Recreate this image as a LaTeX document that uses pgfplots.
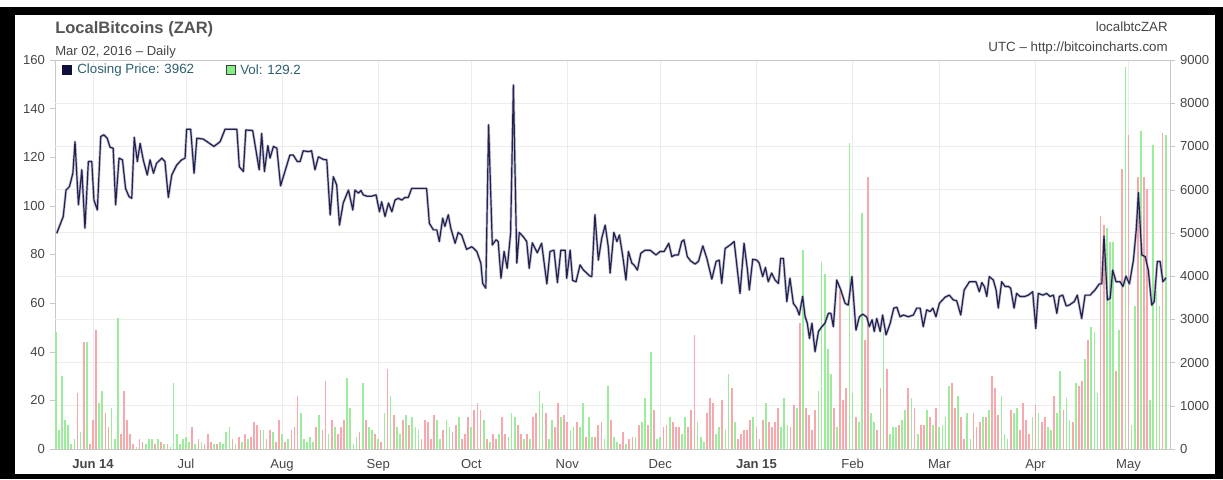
\documentclass[border=0pt]{standalone}
\usepackage{pgfplots}
\usepackage{pgfplotstable}
\pgfplotsset{compat=1.18}
\usepackage{fontspec}
\setmainfont{Liberation Sans}

\definecolor{volgreen}{RGB}{155,236,155}
\definecolor{volred}{RGB}{246,168,172}
\definecolor{priceline}{RGB}{34,34,74}
\definecolor{priceglow}{RGB}{150,150,190}
\definecolor{gridc}{RGB}{236,236,236}
\definecolor{axisc}{RGB}{200,200,200}
\definecolor{labelc}{RGB}{70,70,70}
\definecolor{titlec}{RGB}{85,85,85}
\definecolor{legtext}{RGB}{45,95,110}
\definecolor{legnavy}{RGB}{15,15,60}

\pgfplotsset{
  base/.style={
    scale only axis,
    width=836.25pt, height=291.75pt,
    at={(41.25pt,22.5pt)}, anchor=south west,
    xmin=-12.26, xmax=347.4,
    ticklabel style={font=\fontsize{9.8}{11}\selectfont, text=labelc},
    /pgf/number format/assume math mode=true,
    /pgf/number format/1000 sep={},
    axis line style={axisc},
    tick style={axisc},
    tick align=outside,
    major tick length=4pt,
  },
}

% daily volume (left axis), x = days since 1 Jun 2014, c = 1 green / 0 red
\pgfplotstableread{
d v c
-12 48 1
-11 8 1
-10 30 1
-9 12 1
-8 10 1
-7 2 1
-6 4 1
-5 23 0
-4 7 1
-3 44 0
-2 44 1
-1 2 0
0 12 0
1 49 0
2 19 1
3 24 1
4 15 0
5 9 0
6 17 1
7 4 1
8 54 1
9 6 0
10 24 0
11 12 0
12 6 0
13 2 0
14 1 1
15 4 0
16 3 0
17 2 1
18 4 1
19 4 1
20 2 0
21 4 1
22 3 0
23 2 1
24 2 0
25 1 1
26 27 1
27 6 1
28 2 1
29 4 1
30 5 1
31 3 1
32 9 0
33 2 1
34 4 0
35 3 1
36 2 0
37 6 0
38 3 0
39 2 1
40 2 0
41 3 1
42 2 1
43 7 1
44 9 1
45 4 0
46 2 1
47 5 0
48 3 1
49 6 0
50 4 1
51 5 0
52 11 0
53 10 0
54 8 0
55 8 1
56 4 0
57 8 0
58 7 1
59 3 0
60 12 0
61 6 1
62 3 0
63 4 1
64 8 0
65 9 0
66 22 0
67 15 1
68 4 1
69 3 1
70 5 1
71 3 1
72 9 0
73 14 1
74 8 0
75 28 0
76 6 1
77 12 0
78 9 1
79 6 0
80 9 0
81 12 0
82 29 1
83 17 1
84 2 1
85 5 1
86 7 0
87 27 1
88 12 0
89 9 1
90 8 1
91 6 0
92 4 1
93 3 0
94 15 1
95 33 0
96 22 1
97 14 0
98 9 1
99 6 1
100 12 0
101 14 1
102 10 0
103 13 1
104 9 1
105 8 1
106 4 0
107 12 0
108 11 0
109 4 0
110 14 0
111 12 1
112 4 1
113 8 0
114 12 1
115 9 1
116 7 0
117 10 0
118 13 1
119 4 0
120 6 0
121 13 0
122 9 1
123 16 0
124 19 0
125 16 0
126 12 1
127 4 0
128 3 1
129 6 0
130 4 0
131 6 1
132 13 0
133 6 0
134 5 1
135 15 1
136 13 1
137 10 0
138 6 0
139 4 1
140 6 0
141 4 1
142 13 0
143 15 0
144 24 1
145 19 1
146 15 0
147 4 1
148 12 1
149 9 0
150 19 0
151 13 1
152 14 0
153 11 0
154 8 1
155 9 1
156 11 0
157 9 1
158 19 1
159 5 0
160 13 1
161 5 1
162 5 0
163 10 0
164 11 0
165 4 1
166 26 1
167 12 0
168 5 1
169 3 1
170 2 0
171 7 0
172 2 1
173 4 0
174 5 0
175 5 1
176 10 0
177 11 1
178 21 1
179 10 0
180 40 1
181 16 0
182 4 1
183 5 1
184 9 0
185 10 0
186 13 1
187 11 0
188 9 0
189 9 0
190 6 1
191 13 1
192 9 0
193 16 0
194 47 0
195 11 1
196 5 1
197 3 1
198 15 0
199 21 0
200 19 0
201 6 1
202 9 1
203 20 0
204 8 1
205 31 1
206 25 0
207 11 1
208 4 0
209 6 0
210 8 0
211 8 0
212 12 0
213 13 1
214 9 0
215 4 0
216 12 0
217 19 1
218 11 0
219 9 0
220 11 0
221 17 0
222 9 1
223 21 1
224 10 1
225 9 0
226 18 0
227 17 1
228 52 0
229 82 1
230 17 0
231 14 0
232 8 0
233 16 0
234 24 1
235 77 1
236 72 1
237 41 1
238 31 1
239 17 0
240 9 1
241 65 0
242 20 0
243 25 0
244 126 1
245 23 1
246 13 0
247 11 1
248 97 1
249 45 0
250 112 0
251 15 1
252 11 1
253 8 0
254 25 0
255 48 1
256 33 0
257 6 1
258 9 1
259 9 1
260 10 0
261 12 1
262 16 1
263 25 0
264 21 1
265 17 0
266 6 1
267 10 0
268 10 0
269 16 1
270 13 0
271 10 1
272 17 0
273 9 1
274 10 1
275 13 1
276 26 1
277 27 0
278 17 0
279 22 1
280 13 0
281 4 0
282 15 1
283 4 1
284 15 0
285 9 0
286 11 0
287 13 1
288 13 0
289 16 1
290 30 0
291 25 0
292 14 0
293 22 1
294 6 1
295 4 1
296 16 0
297 15 1
298 17 1
299 8 0
300 19 0
301 12 0
302 6 0
303 13 1
304 18 0
305 15 1
306 11 0
307 13 0
308 9 1
309 8 1
310 22 0
311 15 1
312 32 1
313 16 0
314 21 1
315 12 1
316 11 0
317 27 1
318 26 0
319 28 0
320 37 1
321 45 0
322 50 1
323 48 1
324 23 1
325 96 0
326 92 0
327 91 1
328 85 1
329 85 1
330 32 0
331 49 1
332 115 0
333 157 1
334 129 0
335 10 1
336 59 1
337 112 0
338 131 1
339 112 0
340 107 0
341 20 1
342 125 1
343 65 1
344 59 1
345 130 0
346 129.2 1
}\voltable

% closing price (right axis)
\pgfplotstableread{
d p
-11.7 4990
-9.6 5380
-8.7 5990
-7.6 6070
-6.5 6380
-5.8 7110
-4.7 5650
-3.6 6460
-2.6 5110
-1.5 6650
-0.4 6650
0.3 5760
1.4 5530
2.5 7230
3.5 7270
4.6 7190
5.5 6980
6.5 6960
7.3 5650
8.4 6730
9.5 6690
10.5 6030
11.6 5840
12.5 5800
13.3 7210
14.3 6650
15.2 7070
16.2 6690
17.5 6340
18.4 6690
19.5 6380
20.5 6610
22.2 6730
23.2 6650
24.3 5820
25.4 6340
27.0 6570
28.6 6690
29.7 6730
30.2 7400
31.5 7400
32.6 6380
33.5 7190
35.6 7170
37.2 7090
39.0 7000
41.0 7110
42.6 7400
46.4 7400
47.2 6530
48.5 6420
49.3 7380
51.5 7370
53.6 6460
54.4 7300
55.3 6420
56.4 7020
57.1 6730
58.2 7000
59.3 6960
60.5 6090
61.9 6420
63.5 6800
64.6 6800
65.9 6650
66.8 6650
67.8 6900
69.5 6880
70.5 6900
71.6 6460
72.7 6760
74.3 6700
75.4 6690
76.5 5415
77.5 6300
78.6 6110
79.5 5180
80.7 5690
82.4 5990
83.8 5530
84.5 5990
85.6 5920
86.4 5980
87.2 5880
88.3 5850
89.9 5850
91.3 5880
92.4 5490
93.1 5720
94.2 5380
95.3 5690
96.4 5490
97.4 5760
98.5 5800
99.6 5760
100.6 5820
101.7 5820
102.8 6030
107.6 6030
108.5 5220
109.8 5070
110.9 5070
111.7 4800
112.8 5340
113.5 5150
114.6 5420
115.4 5110
116.8 4760
117.8 5010
118.9 4950
120.5 4620
122.2 4680
123.8 4570
125.1 4300
125.7 3830
126.7 3720
127.6 7500
128.8 4720
130.0 4840
130.7 4800
131.6 3950
132.6 4570
133.6 4180
134.7 4990
135.6 8420
136.7 4300
137.5 5010
138.8 4910
139.9 4800
140.7 4180
141.7 4770
142.6 4640
143.3 4540
144.7 4760
146.4 3820
147.4 4570
148.7 4600
149.8 3850
150.9 4600
152.3 4600
152.8 3950
153.9 4600
154.7 3900
155.8 3870
157.1 4260
158.2 4140
159.3 4070
160.3 4000
160.9 3990
161.9 5420
163.0 4370
164.1 4880
165.2 5180
166.2 4680
166.8 4070
168.0 5010
169.0 4800
169.8 4950
170.9 4450
171.9 3910
172.7 4570
173.8 4300
174.5 4260
175.6 4140
176.7 4530
178.1 4600
179.7 4600
181.6 4490
182.9 4570
184.2 4570
184.8 4640
185.7 4760
186.7 4450
187.7 4490
188.8 4490
189.9 4800
190.6 4840
191.7 4450
192.8 4350
194.2 4280
195.3 4340
196.7 4700
198.0 4410
199.6 3930
201.0 4340
202.0 4370
202.8 3830
203.9 4640
205.5 4720
206.8 4800
207.6 4300
208.7 3600
210.0 4760
211.1 4140
211.7 3680
212.8 4390
214.1 4370
214.9 4300
216.0 3990
216.9 4200
217.8 3870
218.9 4070
220.0 3910
221.1 3830
221.8 4410
222.7 4410
223.8 3410
224.8 3950
225.9 3370
227.0 3260
227.8 3100
228.9 3530
229.7 3060
230.4 2910
231.1 2560
231.9 2910
232.9 2250
234.0 2720
235.1 2830
236.1 2910
237.2 3140
238.0 3140
238.8 2830
239.9 3910
241.2 3680
242.6 3370
243.6 3330
244.8 3990
246.1 2750
247.2 3060
248.3 3120
249.6 3050
250.4 2830
251.3 2990
252.0 2720
252.8 3020
253.9 2720
254.7 3100
255.8 2640
257.1 2900
258.3 3260
259.3 3280
260.3 3060
261.4 3100
263.0 3060
264.6 3100
265.7 3260
266.8 3260
267.8 2830
268.9 3220
270.0 3180
270.9 3260
271.9 3060
273.0 3370
274.8 3510
276.2 3560
277.5 3450
278.6 3430
279.9 3100
281.0 3680
282.7 3870
284.8 3870
285.9 3640
286.7 3850
287.5 3760
288.3 3530
289.1 3990
290.4 3910
291.3 3680
292.0 3260
293.1 3870
294.2 3760
295.3 3760
296.0 3720
297.1 3260
297.9 3600
299.0 3530
300.6 3530
301.7 3560
303.1 3640
304.1 2790
304.9 3600
306.4 3560
307.6 3600
308.7 3530
309.8 3560
310.9 3140
311.7 3530
312.8 3560
313.9 3310
314.9 3330
316.5 3410
317.5 3560
318.9 3020
320.0 3560
321.6 3560
323.2 3680
324.6 3820
325.4 3820
326.1 4930
327.2 3450
328.1 3490
328.9 4140
330.0 3870
331.3 3870
332.2 3760
333.2 4000
334.3 3820
335.6 4370
336.5 5070
337.2 5930
338.3 4490
339.4 4450
340.4 4140
341.5 3330
342.3 3410
343.3 4340
344.2 4340
345.1 3870
346.1 3962
}\pricetable

\begin{document}
\begin{tikzpicture}
\begin{scope}[x=0.75pt,y=0.75pt]
  \path[use as bounding box] (0,0) rectangle (1223,479);
  \fill[black] (0,0) rectangle (1223,472);
  \fill[white] (15,5) rectangle (1215,464);
\end{scope}

% volume, left axis, with the grid
\begin{axis}[base,
  ymin=0, ymax=160, ytick={0,20,...,160},
  ytick pos=left,
  xtick={0,30,61,92,122,153,183,214,245,273,304,334},
  xticklabels={\textbf{Jun 14},Jul,Aug,Sep,Oct,Nov,Dec,\textbf{Jan 15},Feb,Mar,Apr,May},
  x tick style={draw=none},
  xtick pos=bottom,
  xmajorgrids,
  major grid style={gridc, line width=0.75pt},
  extra y ticks={17.7778,35.5556,53.3333,71.1111,88.8889,106.6667,124.4444,142.2222},
  extra y tick labels={},
  extra y tick style={grid=major, major tick length=0pt},
]
% green bars where c=1, red bars where c=0 (the other bars get zero height)
\addplot[ycomb, draw=volgreen, line width=1.3pt, line cap=butt] table[x=d, y expr=\thisrow{v}*\thisrow{c}]{\voltable};
\addplot[ycomb, draw=volred, line width=1.3pt, line cap=butt] table[x=d, y expr=\thisrow{v}*(1-\thisrow{c})]{\voltable};
\end{axis}

% closing price, right axis
\begin{axis}[base,
  ymin=0, ymax=9000, ytick={0,1000,...,9000},
  axis y line*=right, axis x line=none,
]
\addplot[priceglow, opacity=0.6, line width=2pt, line join=round] table[x=d,y=p]{\pricetable};
\addplot[priceline, line width=0.9pt, line join=round] table[x=d,y=p]{\pricetable};
\end{axis}

\begin{scope}[x=0.75pt,y=0.75pt]
  \node[anchor=west, inner sep=0, text=titlec, font=\bfseries\fontsize{12.4}{14}\selectfont] at (55,450) {LocalBitcoins (ZAR)};
  \node[anchor=west, inner sep=0, text=labelc, font=\fontsize{9.8}{11}\selectfont] at (55,427) {Mar 02, 2016 – Daily};
  \node[anchor=east, inner sep=0, text=labelc, font=\fontsize{10}{12}\selectfont] at (1168,452) {localbtcZAR};
  \node[anchor=east, inner sep=0, text=labelc, font=\fontsize{10}{12}\selectfont] at (1168,431) {UTC – http://bitcoincharts.com};
  \fill[legnavy] (62,404) rectangle (72,414);
  \node[anchor=west, inner sep=0, text=legtext, font=\fontsize{10}{12}\selectfont] at (77,409) {Closing Price: 3962};
  \filldraw[fill=volgreen!85!green, draw=black!75, line width=0.6pt] (226,404.5) rectangle (235,413.5);
  \node[anchor=west, inner sep=0, text=legtext, font=\fontsize{10}{12}\selectfont] at (240,409) {Vol: 129.2};
\end{scope}
\end{tikzpicture}
\end{document}
